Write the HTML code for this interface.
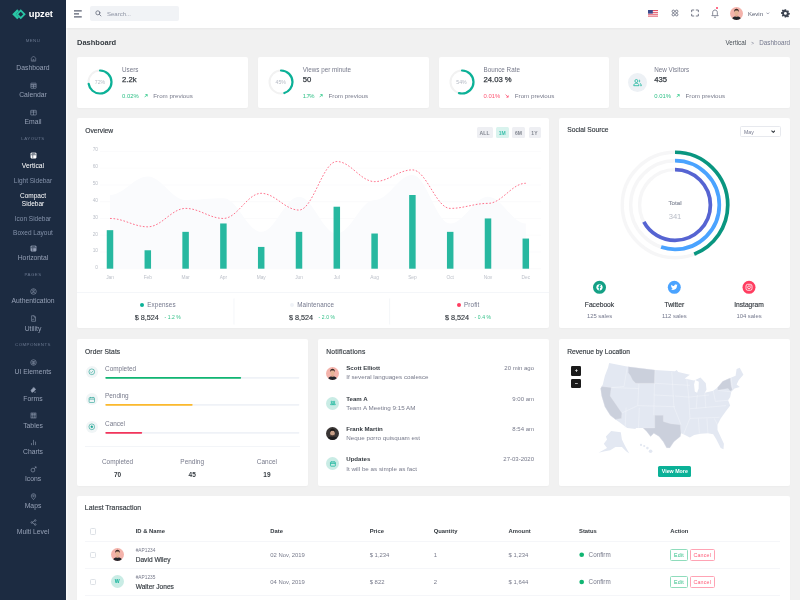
<!DOCTYPE html>
<html lang="en">
<head>
<meta charset="utf-8">
<title>Dashboard | Upzet</title>
<style>
*{box-sizing:border-box;margin:0;padding:0}
html,body{width:800px;height:600px;overflow:hidden}
body{font-family:"Liberation Sans",sans-serif;font-size:6.2px;color:#495057;background:#f1f1f1;position:relative;line-height:1.2}
#wrap{position:absolute;left:0;top:0;width:800px;height:600px;overflow:hidden;will-change:transform;transform:translateZ(0)}
.abs{position:absolute}
.nw{white-space:nowrap}
/* ---------- sidebar ---------- */
#side{box-shadow:1.500px 0 0 rgba(255,255,255,.55);position:absolute;left:0;top:0;width:66px;height:600px;background:#1c2b41;color:#95a0b5}
#side .lbl{position:absolute;left:0;width:66px;text-align:center;font-size:6.5px;line-height:8px;white-space:nowrap}
#side .ttl{position:absolute;left:0;width:66px;text-align:center;font-size:4.4px;line-height:6px;letter-spacing:.45px;color:#6a7890}
#side .ic{position:absolute;left:29.500px;width:7px;height:7px;color:#95a0b5}
#side .ic svg{width:7px;height:7px;display:block;fill:none;stroke:#95a0b5;stroke-width:2;stroke-linecap:butt;stroke-linejoin:miter}
#side .on{color:#fff}
#side .ic.on{color:#fff}
#side .ic.on svg{stroke:#fff}
#side .lbl{font-size:6.8px}
#side .lbl.sub{font-size:6.500px;color:#8391a9}
#side .lbl.sub.on{color:#fff}
/* ---------- topbar ---------- */
#top{position:absolute;left:66px;top:0;width:734px;height:28px;background:#fff;box-shadow:0 1px 2px rgba(0,0,0,.04)}
/* ---------- cards ---------- */
.card{position:absolute}
.card::before{content:"";position:absolute;left:0;right:0;top:var(--t,0px);bottom:var(--b,0px);background:#fff;border-radius:2px;box-shadow:0 1px 1.5px rgba(0,0,0,.022)}
#s1,#s2,#s3,#s4{--b:.7px}
#ov,#ss{--t:-.4px;--b:.55px}
#os,#nt,#rv{--t:-.35px;--b:-.1px}
.ct{position:absolute;font-size:6.7px;color:#343a40;white-space:nowrap;-webkit-text-stroke:.15px #343a40}
.mut{color:#777a8b}
</style>
</head>
<body>
<div id="wrap">

<!-- ================= SIDEBAR ================= -->
<div id="side">
  <svg class="abs" style="left:12px;top:9.300px;width:14px;height:10.500px" viewBox="0 0 28 21"><path d="M10.500 0.500 0.500 10.500l10 10 3.500-3.500-6.500-6.500 6.500-6.500z" fill="#2ac6a6"/><path d="M17.500 0.500l-10 10 10 10 10-10z" fill="#2ac6a6"/><path d="M17.500 5.500l-5 5 5 5 5-5z" fill="#1c2b41"/></svg>
  <div class="abs nw" style="left:28.800px;top:7.200px;font-size:9.400px;line-height:13px;font-weight:bold;color:#fff;letter-spacing:-.1px">upzet</div>
  <div class="ttl" style="top:38.10px">MENU</div>
  <div class="ic" style="top:54.50px"><svg viewBox="0 0 24 24"><path d="M4.500 11 12 3.500l7.500 7.500v10h-15z" stroke-width="1.800"/><path d="M10.200 21v-5.500h3.600V21" stroke-width="1.500"/></svg></div>
  <div class="lbl" style="top:64.00px">Dashboard</div>
  <div class="ic" style="top:81.50px"><svg viewBox="0 0 24 24"><rect x="3" y="4" width="18" height="17.500" rx="1"/><path d="M3 9.500h18" stroke-width="3"/><path d="M12 9.500V21M3 15h18"/></svg></div>
  <div class="lbl" style="top:91.00px">Calendar</div>
  <div class="ic" style="top:108.50px"><svg viewBox="0 0 24 24"><rect x="2.500" y="4.500" width="19" height="16" rx="1"/><path d="M2.500 10.500h19M12 4.500v16"/></svg></div>
  <div class="lbl" style="top:118.00px">Email</div>
  <div class="ttl" style="top:135.70px">LAYOUTS</div>
  <div class="ic on" style="top:152.25px"><svg viewBox="0 0 24 24"><rect x="3" y="3" width="18" height="18" rx="2" fill="currentColor"/><path d="M3 9.5h18M9.5 21V9.5" stroke="#1c2b41" stroke-width="2"/><rect x="6" y="5" width="12" height="2.5" fill="#1c2b41" stroke="none"/></svg></div>
  <div class="lbl on" style="top:162.00px">Vertical</div>
  <div class="lbl sub" style="top:177.25px">Light Sidebar</div>
  <div class="lbl sub on" style="top:191.50px">Compact</div>
  <div class="lbl sub on" style="top:200.25px">Sidebar</div>
  <div class="lbl sub" style="top:214.50px">Icon Sidebar</div>
  <div class="lbl sub" style="top:228.75px">Boxed Layout</div>
  <div class="ic" style="top:244.50px"><svg viewBox="0 0 24 24"><rect x="3" y="3" width="18" height="18" rx="2" fill="currentColor"/><path d="M3 9.5h18M9.5 21V9.5" stroke="#1c2b41" stroke-width="2"/><rect x="6" y="5" width="12" height="2.5" fill="#1c2b41" stroke="none"/></svg></div>
  <div class="lbl" style="top:253.75px">Horizontal</div>
  <div class="ttl" style="top:271.70px">PAGES</div>
  <div class="ic" style="top:288.00px"><svg viewBox="0 0 24 24"><circle cx="12" cy="12" r="9.5"/><circle cx="12" cy="9.5" r="3"/><path d="M6 18.5c1.5-3 4-4 6-4s4.500 1 6 4"/></svg></div>
  <div class="lbl" style="top:297.25px">Authentication</div>
  <div class="ic" style="top:315.25px"><svg viewBox="0 0 24 24"><path d="M5.5 2.5h9l4.500 4.500V21.500h-13.500z"/><path d="M14 2.5v5h5M8.500 16.500l2.500-3 2.500 2 2-2.500"/></svg></div>
  <div class="lbl" style="top:324.50px">Utility</div>
  <div class="ttl" style="top:342.10px">COMPONENTS</div>
  <div class="ic" style="top:359.00px"><svg viewBox="0 0 24 24"><circle cx="12" cy="12" r="9.500"/><path d="M7.500 9h9v4c0 3-2 4.500-4.500 4.500s-4.500-1.500-4.500-4.500z"/><path d="M12 9v8"/></svg></div>
  <div class="lbl" style="top:368.25px">UI Elements</div>
  <div class="ic" style="top:385.75px"><svg viewBox="0 0 24 24"><path d="M3.500 14.500 13 5l6.500 6.500-9.500 9.500H6z" fill="currentColor"/><path d="M13.500 21h7"/><path d="M9 3.500l2 2" /></svg></div>
  <div class="lbl" style="top:394.75px">Forms</div>
  <div class="ic" style="top:412.20px"><svg viewBox="0 0 24 24"><rect x="3.500" y="3.500" width="17" height="17"/><path d="M9.300 3.500v17M14.700 3.500v17M3.500 9.500h17"/></svg></div>
  <div class="lbl" style="top:421.50px">Tables</div>
  <div class="ic" style="top:439.20px"><svg viewBox="0 0 24 24"><path d="M5 21v-7M12 21V3M19 21V9"/></svg></div>
  <div class="lbl" style="top:448.20px">Charts</div>
  <div class="ic" style="top:465.80px"><svg viewBox="0 0 24 24"><circle cx="10" cy="14" r="6.500"/><path d="M14.500 9.500 21 3M16 3h5v5"/></svg></div>
  <div class="lbl" style="top:474.80px">Icons</div>
  <div class="ic" style="top:492.80px"><svg viewBox="0 0 24 24"><path d="M12 22.500c-4-4.500-7.500-8.500-7.500-12.500a7.500 7.500 0 0 1 15 0c0 4-3.500 8-7.500 12.500z"/><circle cx="12" cy="10" r="2.800"/></svg></div>
  <div class="lbl" style="top:501.50px">Maps</div>
  <div class="ic" style="top:519.20px"><svg viewBox="0 0 24 24"><circle cx="18" cy="5" r="2.800"/><circle cx="6" cy="12" r="2.800"/><circle cx="18" cy="19" r="2.800"/><path d="M8.500 10.500 15.500 6.500M8.500 13.500l7 4"/></svg></div>
  <div class="lbl" style="top:528.20px">Multi Level</div>
</div>

<!-- ================= TOPBAR ================= -->
<div id="top">

  <!-- hamburger -->
  <svg class="abs" style="left:8.400px;top:10.400px;width:8px;height:7.500px" viewBox="0 0 16 15"><path d="M0 1.500h15.500M0 7.500h10M0 13.500h15.500" stroke="#5b6172" stroke-width="2.500" fill="none"/></svg>
  <!-- search -->
  <div class="abs" style="left:24.100px;top:6.100px;width:88.600px;height:15.300px;background:#f1f3f6;border-radius:2px"></div>
  <svg class="abs" style="left:29.300px;top:10.200px;width:6.500px;height:6.500px" viewBox="0 0 24 24" fill="none" stroke="#555b6d" stroke-width="2.600" stroke-linecap="round"><circle cx="10.500" cy="10.500" r="7.500"/><path d="M16.500 16.500 22 22"/></svg>
  <div class="abs nw" style="left:41px;top:9.700px;font-size:6px;line-height:8px;color:#8d93a3">Search...</div>
  <!-- flag -->
  <svg class="abs" style="left:582px;top:10.400px;width:10.400px;height:6.600px" viewBox="0 0 52 33"><rect width="52" height="33" fill="#fff"/><g fill="#e0485c"><rect width="52" height="4.700"/><rect y="9.400" width="52" height="4.700"/><rect y="18.800" width="52" height="4.700"/><rect y="28.300" width="52" height="4.700"/></g><rect width="24" height="18" fill="#3c4a8c"/></svg>
  <!-- apps -->
  <svg class="abs" style="left:604.600px;top:9.400px;width:8px;height:8px" viewBox="0 0 24 24" fill="none" stroke="#555b6d" stroke-width="2.200"><circle cx="7" cy="7" r="3.800"/><circle cx="17" cy="7" r="3.800"/><circle cx="7" cy="17" r="3.800"/><circle cx="17" cy="17" r="3.800"/></svg>
  <!-- fullscreen -->
  <svg class="abs" style="left:625.400px;top:9.400px;width:8px;height:8px" viewBox="0 0 24 24" fill="none" stroke="#555b6d" stroke-width="2.400" stroke-linecap="square"><path d="M2 8V3h6M16 3h6v5M22 16v5h-6M8 21H2v-5"/></svg>
  <!-- bell -->
  <svg class="abs" style="left:644.600px;top:9px;width:8px;height:9px" viewBox="0 0 24 27" fill="none" stroke="#555b6d" stroke-width="2.200" stroke-linejoin="round"><path d="M12 3c-4.500 0-7 3.500-7 7.500v6l-2.500 3.500h19L19 16.500v-6C19 6.500 16.500 3 12 3z"/><path d="M9 23.500c1.500 2 4.500 2 6 0"/></svg>
  <div class="abs" style="left:650px;top:7px;width:2.400px;height:2.400px;border-radius:50%;background:#ff3d60"></div>
  <!-- avatar -->
  <svg class="abs" style="left:664.200px;top:7px;width:13px;height:13px" viewBox="0 0 26 26"><defs><clipPath id="avc"><circle cx="13" cy="13" r="13"/></clipPath></defs><g clip-path="url(#avc)"><rect width="26" height="26" fill="#f4b3ab"/><path d="M3.500 26c0-5 4-7.500 9.500-7.500s9.500 2.500 9.500 7.500z" fill="#23252b"/><rect x="11" y="15" width="4" height="4.500" fill="#dba487"/><ellipse cx="13" cy="11.500" rx="4.300" ry="5.200" fill="#e6b496"/><path d="M8.300 10.500c-.5-5 2-7 4.700-7s5.200 2 4.700 7c-.8-2.500-1.500-3.500-4.700-3.500s-3.900 1-4.700 3.500z" fill="#3b2a26"/></g></svg>
  <div class="abs nw" style="left:682px;top:9.700px;font-size:6px;line-height:8px;color:#555b6d">Kevin</div>
  <svg class="abs" style="left:700px;top:12.200px;width:3.600px;height:2.600px" viewBox="0 0 8 5" fill="none" stroke="#74788d" stroke-width="1.500"><path d="M1 1l3 3 3-3"/></svg>
  <!-- gear -->
  <svg class="abs" style="left:715px;top:9.200px;width:8.800px;height:8.800px" viewBox="0 0 24 24"><path fill="#3d4451" fill-rule="evenodd" d="M10 1h4l.6 3.100 1.900.8 2.600-1.800 2.800 2.800-1.800 2.600.8 1.900 3.100.6v4l-3.100.6-.8 1.900 1.800 2.600-2.800 2.800-2.600-1.800-1.900.8L14 23h-4l-.6-3.100-1.900-.8-2.600 1.800-2.800-2.800 1.800-2.600-.8-1.900L0 13v-4l3.100-.6.8-1.900-1.800-2.600 2.800-2.800 2.600 1.800 1.900-.8zM12 8a4 4 0 1 0 0 8 4 4 0 0 0 0-8z"/></svg>

</div>

<!-- ================= PAGE TITLE ================= -->
<div class="abs nw" style="left:77px;top:38px;font-size:7.500px;font-weight:bold;color:#343a40;line-height:9px">Dashboard</div>
<div class="abs nw" style="right:10px;top:39px;font-size:6.3px;line-height:8px;color:#495057">Vertical <span style="display:inline-block;width:9.600px;text-align:center;color:#74788d;font-size:4.600px;vertical-align:.4px">&gt;</span> <span style="color:#74788d">Dashboard</span></div>

<!-- ================= STAT CARDS ================= -->
<div class="card" id="s1" style="left:77px;top:57px;width:170.75px;height:51.5px"><svg class="abs" style="left:10px;top:12.250px;width:26px;height:26px" viewBox="0 0 26 26"><circle cx="13" cy="13" r="11.5" fill="none" stroke="#f2f2f2" stroke-width="2"/><circle cx="13" cy="13" r="11.5" fill="none" stroke="#0bb197" stroke-width="2.200" stroke-linecap="round" stroke-dasharray="52.02 72.26" transform="rotate(-90 13 13)"/></svg><div class="abs" style="left:10px;top:21.750px;width:26px;text-align:center;font-size:5.200px;line-height:7px;color:#b5bac4">72%</div><div class="abs nw mut" style="left:45px;top:8.700px;font-size:6.300px;line-height:8px">Users</div><div class="abs nw" style="left:45px;top:18.400px;font-size:7.700px;line-height:10px;color:#343a40;-webkit-text-stroke:.25px #343a40">2.2k</div><div class="abs nw mut" style="left:45px;top:34.600px;font-size:6.200px;line-height:8px"><span style="color:#2dbf85;font-size:5.900px">0.02%</span><svg style="width:3.800px;height:3.800px;margin:0 5.800px 0 5px;vertical-align:0" viewBox="0 0 10 10" fill="none" stroke="#0ac074" stroke-width="1.800"><path d="M1.500 8.500 8 2M3.500 1.500h5v5"/></svg>From previous</div></div>
<div class="card" id="s2" style="left:257.75px;top:57px;width:170.75px;height:51.5px"><svg class="abs" style="left:10px;top:12.250px;width:26px;height:26px" viewBox="0 0 26 26"><circle cx="13" cy="13" r="11.5" fill="none" stroke="#f2f2f2" stroke-width="2"/><circle cx="13" cy="13" r="11.5" fill="none" stroke="#0bb197" stroke-width="2.200" stroke-linecap="round" stroke-dasharray="32.52 72.26" transform="rotate(-90 13 13)"/></svg><div class="abs" style="left:10px;top:21.750px;width:26px;text-align:center;font-size:5.200px;line-height:7px;color:#b5bac4">45%</div><div class="abs nw mut" style="left:45px;top:8.700px;font-size:6.300px;line-height:8px">Views per minute</div><div class="abs nw" style="left:45px;top:18.400px;font-size:7.700px;line-height:10px;color:#343a40;-webkit-text-stroke:.25px #343a40">50</div><div class="abs nw mut" style="left:45px;top:34.600px;font-size:6.200px;line-height:8px"><span style="color:#2dbf85;font-size:5.900px;letter-spacing:-.55px">1.7%</span><svg style="width:3.800px;height:3.800px;margin:0 5.800px 0 5px;vertical-align:0" viewBox="0 0 10 10" fill="none" stroke="#0ac074" stroke-width="1.800"><path d="M1.500 8.500 8 2M3.500 1.500h5v5"/></svg>From previous</div></div>
<div class="card" id="s3" style="left:438.5px;top:57px;width:170.75px;height:51.5px"><svg class="abs" style="left:10px;top:12.250px;width:26px;height:26px" viewBox="0 0 26 26"><circle cx="13" cy="13" r="11.5" fill="none" stroke="#f2f2f2" stroke-width="2"/><circle cx="13" cy="13" r="11.5" fill="none" stroke="#0bb197" stroke-width="2.200" stroke-linecap="round" stroke-dasharray="39.02 72.26" transform="rotate(-90 13 13)"/></svg><div class="abs" style="left:10px;top:21.750px;width:26px;text-align:center;font-size:5.200px;line-height:7px;color:#b5bac4">54%</div><div class="abs nw mut" style="left:45px;top:8.700px;font-size:6.300px;line-height:8px">Bounce Rate</div><div class="abs nw" style="left:45px;top:18.400px;font-size:7.700px;line-height:10px;color:#343a40;-webkit-text-stroke:.25px #343a40">24.03 %</div><div class="abs nw mut" style="left:45px;top:34.600px;font-size:6.200px;line-height:8px"><span style="color:#ff5573;font-size:5.900px">0.01%</span><svg style="width:3.800px;height:3.800px;margin:0 5.800px 0 5px;vertical-align:0" viewBox="0 0 10 10" fill="none" stroke="#ff3d60" stroke-width="1.800"><path d="M1.500 1.500 8 8M8.500 3.500v5h-5"/></svg>From previous</div></div>
<div class="card" id="s4" style="left:619.25px;top:57px;width:170.75px;height:51.5px"><div class="abs" style="left:8.750px;top:15.750px;width:19px;height:19px;border-radius:50%;background:#edf1f5"></div><svg class="abs" style="left:13.750px;top:21px;width:9px;height:9px" viewBox="0 0 24 24" fill="none" stroke="#0bb197" stroke-width="2"><circle cx="9" cy="8" r="4"/><path d="M2 20.500c0-4.500 3-6.500 7-6.500s7 2 7 6.500z"/><path d="M16 4.500a4 4 0 0 1 0 7M18.500 14.500c2.500.800 3.800 2.700 3.800 6h-3"/></svg><div class="abs nw mut" style="left:35px;top:8.700px;font-size:6.300px;line-height:8px">New Visitors</div><div class="abs nw" style="left:35px;top:18.400px;font-size:7.700px;line-height:10px;color:#343a40;-webkit-text-stroke:.25px #343a40">435</div><div class="abs nw mut" style="left:35px;top:34.600px;font-size:6.200px;line-height:8px"><span style="color:#2dbf85;font-size:5.900px">0.01%</span><svg style="width:3.800px;height:3.800px;margin:0 5.800px 0 5px;vertical-align:0" viewBox="0 0 10 10" fill="none" stroke="#0ac074" stroke-width="1.800"><path d="M1.500 8.500 8 2M3.500 1.500h5v5"/></svg>From previous</div></div>

<!-- ================= ROW 2 ================= -->
<div class="card" id="ov" style="left:77px;top:118.5px;width:472px;height:210.5px">
<svg class="abs" style="left:0;top:0;width:472px;height:210.500px" viewBox="77 118.500 472 210.500" font-family="Liberation Sans, sans-serif">
<path d="M100 268.20H541" stroke="#f4f5f7" stroke-width=".4"/>
<text x="98" y="268.80" font-size="4.800" fill="#bcc0c9" text-anchor="end">0</text>
<path d="M100 251.45H541" stroke="#f4f5f7" stroke-width=".4"/>
<text x="98" y="251.93" font-size="4.800" fill="#bcc0c9" text-anchor="end">10</text>
<path d="M100 234.70H541" stroke="#f4f5f7" stroke-width=".4"/>
<text x="98" y="235.06" font-size="4.800" fill="#bcc0c9" text-anchor="end">20</text>
<path d="M100 217.95H541" stroke="#f4f5f7" stroke-width=".4"/>
<text x="98" y="218.19" font-size="4.800" fill="#bcc0c9" text-anchor="end">30</text>
<path d="M100 201.20H541" stroke="#f4f5f7" stroke-width=".4"/>
<text x="98" y="201.32" font-size="4.800" fill="#bcc0c9" text-anchor="end">40</text>
<path d="M100 184.45H541" stroke="#f4f5f7" stroke-width=".4"/>
<text x="98" y="184.45" font-size="4.800" fill="#bcc0c9" text-anchor="end">50</text>
<path d="M100 167.70H541" stroke="#f4f5f7" stroke-width=".4"/>
<text x="98" y="167.58" font-size="4.800" fill="#bcc0c9" text-anchor="end">60</text>
<path d="M100 150.95H541" stroke="#f4f5f7" stroke-width=".4"/>
<text x="98" y="150.71" font-size="4.800" fill="#bcc0c9" text-anchor="end">70</text>
<path d="M110.00 194.50C124.00 194.50 133.80 176.07 147.80 176.07C161.80 176.07 171.60 199.52 185.60 199.52C199.60 199.52 209.40 197.85 223.40 197.85C237.40 197.85 247.20 231.35 261.20 231.35C275.20 231.35 285.00 196.17 299.00 196.17C313.00 196.17 322.80 233.02 336.80 233.02C350.80 233.02 360.60 199.52 374.60 199.52C388.60 199.52 398.40 174.40 412.40 174.40C426.40 174.40 436.20 222.97 450.20 222.97C464.20 222.97 474.00 196.17 488.00 196.17C502.00 196.17 511.80 222.97 525.80 222.97L525.80 268.20L110.00 268.20Z" fill="#fafbfd"/>
<rect x="106.75" y="229.67" width="6.500" height="38.52" fill="#27b8a0"/>
<rect x="144.55" y="249.77" width="6.500" height="18.43" fill="#27b8a0"/>
<rect x="182.35" y="231.35" width="6.500" height="36.85" fill="#27b8a0"/>
<rect x="220.15" y="222.97" width="6.500" height="45.23" fill="#27b8a0"/>
<rect x="257.95" y="246.42" width="6.500" height="21.78" fill="#27b8a0"/>
<rect x="295.75" y="231.35" width="6.500" height="36.85" fill="#27b8a0"/>
<rect x="333.55" y="206.22" width="6.500" height="61.98" fill="#27b8a0"/>
<rect x="371.35" y="233.02" width="6.500" height="35.18" fill="#27b8a0"/>
<rect x="409.15" y="194.50" width="6.500" height="73.70" fill="#27b8a0"/>
<rect x="446.95" y="231.35" width="6.500" height="36.85" fill="#27b8a0"/>
<rect x="484.75" y="217.95" width="6.500" height="50.25" fill="#27b8a0"/>
<rect x="522.55" y="238.05" width="6.500" height="30.15" fill="#27b8a0"/>
<path d="M110.00 217.95C124.00 217.95 133.80 226.32 147.80 226.32C161.80 226.32 171.60 207.90 185.60 207.90C199.60 207.90 209.40 217.95 223.40 217.95C237.40 217.95 247.20 192.82 261.20 192.82C275.20 192.82 285.00 209.57 299.00 209.57C313.00 209.57 322.80 161.00 336.80 161.00C350.80 161.00 360.60 181.10 374.60 181.10C388.60 181.10 398.40 169.38 412.40 169.38C426.40 169.38 436.20 207.90 450.20 207.90C464.20 207.90 474.00 202.88 488.00 202.88C502.00 202.88 511.80 182.77 525.80 182.77" fill="none" stroke="#ff3d60" stroke-width=".85" stroke-dasharray="1.700 1.700" stroke-opacity=".85"/>
<text x="110.00" y="278.200" font-size="4.800" fill="#bcc0c9" text-anchor="middle">Jan</text>
<text x="147.80" y="278.200" font-size="4.800" fill="#bcc0c9" text-anchor="middle">Feb</text>
<text x="185.60" y="278.200" font-size="4.800" fill="#bcc0c9" text-anchor="middle">Mar</text>
<text x="223.40" y="278.200" font-size="4.800" fill="#bcc0c9" text-anchor="middle">Apr</text>
<text x="261.20" y="278.200" font-size="4.800" fill="#bcc0c9" text-anchor="middle">May</text>
<text x="299.00" y="278.200" font-size="4.800" fill="#bcc0c9" text-anchor="middle">Jun</text>
<text x="336.80" y="278.200" font-size="4.800" fill="#bcc0c9" text-anchor="middle">Jul</text>
<text x="374.60" y="278.200" font-size="4.800" fill="#bcc0c9" text-anchor="middle">Aug</text>
<text x="412.40" y="278.200" font-size="4.800" fill="#bcc0c9" text-anchor="middle">Sep</text>
<text x="450.20" y="278.200" font-size="4.800" fill="#bcc0c9" text-anchor="middle">Oct</text>
<text x="488.00" y="278.200" font-size="4.800" fill="#bcc0c9" text-anchor="middle">Nov</text>
<text x="525.80" y="278.200" font-size="4.800" fill="#bcc0c9" text-anchor="middle">Dec</text>
<path d="M77 292H549" stroke="#eff2f7" stroke-width=".7"/><path d="M234 298V324M389.600 298V324" stroke="#eff2f7" stroke-width=".7"/>
</svg>
<div class="ct" style="left:8.300px;top:8.500px;line-height:8px">Overview</div>
<div class="abs" style="left:399.5px;top:8.500px;width:16.2px;height:10.700px;background:#eeeff3;border-radius:1.500px;color:#80858f;font-size:5px;line-height:12.300px;font-weight:bold;overflow:hidden;text-align:center;letter-spacing:.1px">ALL</div><div class="abs" style="left:419px;top:8.500px;width:12.6px;height:10.700px;background:#d9f3ee;border-radius:1.500px;color:#3cc0ab;font-size:5px;line-height:12.300px;font-weight:bold;overflow:hidden;text-align:center;letter-spacing:.1px">1M</div><div class="abs" style="left:434.6px;top:8.500px;width:13.9px;height:10.700px;background:#eeeff3;border-radius:1.500px;color:#80858f;font-size:5px;line-height:12.300px;font-weight:bold;overflow:hidden;text-align:center;letter-spacing:.1px">6M</div><div class="abs" style="left:451.5px;top:8.500px;width:12px;height:10.700px;background:#eeeff3;border-radius:1.500px;color:#80858f;font-size:5px;line-height:12.300px;font-weight:bold;overflow:hidden;text-align:center;letter-spacing:.1px">1Y</div>
<div class="abs nw" style="left:20.80000000000001px;width:120px;top:182.700px;text-align:center;font-size:6.300px;letter-spacing:.08px;line-height:8px;color:#74788d"><span style="display:inline-block;width:4px;height:4px;border-radius:50%;background:#0bb197;margin-right:3.400px;vertical-align:.5px"></span>Expenses</div><div class="abs nw" style="left:20.80000000000001px;width:120px;top:194.100px;text-align:center;font-size:7.250px;line-height:9px;color:#343a40;-webkit-text-stroke:.15px #343a40">$ 8,524<span style="font-size:5px;color:#2dbf85;-webkit-text-stroke:0;margin-left:5.500px;vertical-align:.3px;letter-spacing:.1px">- 1.2 %</span></div><div class="abs nw" style="left:175px;width:120px;top:182.700px;text-align:center;font-size:6.300px;letter-spacing:.08px;line-height:8px;color:#74788d"><span style="display:inline-block;width:4px;height:4px;border-radius:50%;background:#eff2f7;margin-right:3.400px;vertical-align:.5px"></span>Maintenance</div><div class="abs nw" style="left:175px;width:120px;top:194.100px;text-align:center;font-size:7.250px;line-height:9px;color:#343a40;-webkit-text-stroke:.15px #343a40">$ 8,524<span style="font-size:5px;color:#2dbf85;-webkit-text-stroke:0;margin-left:5.500px;vertical-align:.3px;letter-spacing:.1px">- 2.0 %</span></div><div class="abs nw" style="left:331px;width:120px;top:182.700px;text-align:center;font-size:6.300px;letter-spacing:.08px;line-height:8px;color:#74788d"><span style="display:inline-block;width:4px;height:4px;border-radius:50%;background:#ff3d60;margin-right:3.400px;vertical-align:.5px"></span>Profit</div><div class="abs nw" style="left:331px;width:120px;top:194.100px;text-align:center;font-size:7.250px;line-height:9px;color:#343a40;-webkit-text-stroke:.15px #343a40">$ 8,524<span style="font-size:5px;color:#2dbf85;-webkit-text-stroke:0;margin-left:5.500px;vertical-align:.3px;letter-spacing:.1px">- 0.4 %</span></div>
</div>
<div class="card" id="ss" style="left:559px;top:118.5px;width:231px;height:210.5px">
<svg class="abs" style="left:0;top:0;width:231px;height:210.500px" viewBox="559 118.500 231 210.500" font-family="Liberation Sans, sans-serif">
<circle cx="675.0" cy="204.5" r="52.75" fill="none" stroke="#f6f6f7" stroke-width="3.400"/><circle cx="675.0" cy="204.5" r="52.75" fill="none" stroke="#099680" stroke-width="3.700" stroke-dasharray="145.83 331.44" transform="rotate(-90 675.0 204.5)"/><circle cx="675.0" cy="204.5" r="44.3" fill="none" stroke="#f6f6f7" stroke-width="3.400"/><circle cx="675.0" cy="204.5" r="44.3" fill="none" stroke="#4aa3ff" stroke-width="3.700" stroke-dasharray="153.09 278.35" transform="rotate(-90 675.0 204.5)"/><circle cx="675.0" cy="204.5" r="35.4" fill="none" stroke="#f6f6f7" stroke-width="3.400"/><circle cx="675.0" cy="204.5" r="35.4" fill="none" stroke="#5664d2" stroke-width="3.700" stroke-dasharray="149.02 222.42" transform="rotate(-90 675.0 204.5)"/>
<text x="675.0" y="204.900" font-size="6.200" fill="#8f94a1" stroke="#8f94a1" stroke-width=".2" text-anchor="middle">Total</text>
<text x="675.0" y="218" font-size="7.600" fill="#b8bcc6" text-anchor="middle">341</text>
<circle cx="599.5" cy="286.800" r="6.500" fill="#14a085"/>
<circle cx="674.3" cy="286.800" r="6.500" fill="#4aa3ff"/>
<circle cx="749" cy="286.800" r="6.500" fill="#ff3d60"/>
<circle cx="599.500" cy="286.800" r="3.100" fill="#fff"/><path d="M599.900 289.900v-2.600h.9l.15-1h-1.050v-.65c0-.3.1-.5.55-.5h.55v-.9c-.1 0-.45-.05-.8-.05-.85 0-1.400.5-1.400 1.400v.7h-.9v1h.9v2.600z" fill="#0bb197"/>
<path d="M677.700 284.600c-.25.1-.5.200-.8.200.3-.2.500-.45.600-.8-.3.150-.55.250-.9.350-.25-.3-.6-.45-1-.45-.8 0-1.400.65-1.400 1.400 0 .1 0 .2.050.3-1.150-.05-2.200-.6-2.900-1.450-.1.200-.2.450-.2.700 0 .5.250.9.600 1.150-.25 0-.45-.05-.65-.15 0 .7.500 1.250 1.100 1.400-.2.050-.4.050-.6 0 .2.550.700.950 1.300.950-.6.450-1.300.650-2.050.600.600.400 1.350.600 2.150.600 2.550 0 3.950-2.100 3.950-3.950v-.2c.300-.2.550-.45.750-.65z" fill="#fff"/>
<rect x="746" y="283.800" width="6" height="6" rx="1.700" fill="none" stroke="#fff" stroke-width=".8"/><circle cx="749" cy="286.800" r="1.400" fill="none" stroke="#fff" stroke-width=".75"/><circle cx="750.700" cy="285.100" r=".4" fill="#fff"/>
<text x="599.5" y="306" font-size="6.700" fill="#343a40" stroke="#343a40" stroke-width=".15" text-anchor="middle">Facebook</text>
<text x="599.5" y="317" font-size="5.900" fill="#74788d" text-anchor="middle">125 sales</text>
<text x="674.3" y="306" font-size="6.700" fill="#343a40" stroke="#343a40" stroke-width=".15" text-anchor="middle">Twitter</text>
<text x="674.3" y="317" font-size="5.900" fill="#74788d" text-anchor="middle">112 sales</text>
<text x="749" y="306" font-size="6.700" fill="#343a40" stroke="#343a40" stroke-width=".15" text-anchor="middle">Instagram</text>
<text x="749" y="317" font-size="5.900" fill="#74788d" text-anchor="middle">104 sales</text>
</svg>
<div class="ct" style="left:8.300px;top:7.900px;line-height:8px">Social Source</div>
<div class="abs" style="left:181.200px;top:7.500px;width:41.200px;height:11.200px;border:1px solid #e7e9ee;border-radius:1.500px"></div>
<div class="abs nw" style="left:185px;top:10.200px;font-size:5.200px;line-height:7px;color:#74788d">May</div>
<svg class="abs" style="left:211.500px;top:11.500px;width:4.600px;height:3.200px" viewBox="0 0 10 7" fill="none" stroke="#343a40" stroke-width="2.300"><path d="M1 1.200l4 4 4-4"/></svg>
</div>

<!-- ================= ROW 3 ================= -->
<div class="card" id="os" style="left:77px;top:339.4px;width:231px;height:146.4px">
<div class="ct" style="left:8px;top:8.300px;line-height:8px;letter-spacing:.1px">Order Stats</div>
<div class="abs" style="left:8.60px;top:26.50px;width:12px;height:12px;border-radius:50%;background:#f0f5f6"></div>
<svg class="abs" style="left:10.80px;top:28.70px;width:7.600px;height:7.600px" viewBox="0 0 24 24" fill="none" stroke="#2ba596" stroke-width="2"><circle cx="12" cy="12" r="9"/><path d="M7.500 12.500l3 3 6-6.500"/></svg>
<div class="abs nw mut" style="left:28px;top:25.35px;font-size:6.450px;line-height:8px">Completed</div>
<svg class="abs" style="left:28px;top:36.25px;width:194.7px;height:3.700px" viewBox="0 0 194.7 3.700"><rect x="0" y="1" width="194.7" height="1.700" rx=".85" fill="#eff2f7"/><rect x="0" y="1" width="136.29" height="1.700" rx=".85" fill="#10b572"/></svg>
<div class="abs" style="left:8.60px;top:54.00px;width:12px;height:12px;border-radius:50%;background:#f0f5f6"></div>
<svg class="abs" style="left:10.80px;top:56.20px;width:7.600px;height:7.600px" viewBox="0 0 24 24" fill="none" stroke="#2ba596" stroke-width="2"><rect x="3.500" y="5" width="17" height="15.500" rx="2"/><path d="M3.500 10h17M8 3v4M16 3v4"/></svg>
<div class="abs nw mut" style="left:28px;top:52.85px;font-size:6.450px;line-height:8px">Pending</div>
<svg class="abs" style="left:28px;top:63.75px;width:194.7px;height:3.700px" viewBox="0 0 194.7 3.700"><rect x="0" y="1" width="194.7" height="1.700" rx=".85" fill="#eff2f7"/><rect x="0" y="1" width="87.61" height="1.700" rx=".85" fill="#fcb92c"/></svg>
<div class="abs" style="left:8.60px;top:81.50px;width:12px;height:12px;border-radius:50%;background:#f0f5f6"></div>
<svg class="abs" style="left:10.80px;top:83.70px;width:7.600px;height:7.600px" viewBox="0 0 24 24" fill="none" stroke="#2ba596" stroke-width="2"><circle cx="12" cy="12" r="9"/><circle cx="12" cy="12" r="3" fill="#0bb197"/></svg>
<div class="abs nw mut" style="left:28px;top:80.35px;font-size:6.450px;line-height:8px">Cancel</div>
<svg class="abs" style="left:28px;top:91.25px;width:194.7px;height:3.700px" viewBox="0 0 194.7 3.700"><rect x="0" y="1" width="194.7" height="1.700" rx=".85" fill="#eff2f7"/><rect x="0" y="1" width="36.99" height="1.700" rx=".85" fill="#f2355b"/></svg>
<div class="abs" style="left:8.300px;top:107.00px;width:214.400px;height:1px;background:#f3f5f8"></div>
<div class="abs nw mut" style="left:0.5px;width:80px;text-align:center;top:118.50px;font-size:6.450px;line-height:8px">Completed</div>
<div class="abs nw" style="left:0.5px;width:80px;text-align:center;top:131.20px;font-size:6.500px;line-height:8px;font-weight:bold;color:#343a40">70</div>
<div class="abs nw mut" style="left:75.19999999999999px;width:80px;text-align:center;top:118.50px;font-size:6.450px;line-height:8px">Pending</div>
<div class="abs nw" style="left:75.19999999999999px;width:80px;text-align:center;top:131.20px;font-size:6.500px;line-height:8px;font-weight:bold;color:#343a40">45</div>
<div class="abs nw mut" style="left:149.89999999999998px;width:80px;text-align:center;top:118.50px;font-size:6.450px;line-height:8px">Cancel</div>
<div class="abs nw" style="left:149.89999999999998px;width:80px;text-align:center;top:131.20px;font-size:6.500px;line-height:8px;font-weight:bold;color:#343a40">19</div>
</div>
<div class="card" id="nt" style="left:318px;top:339.4px;width:231px;height:146.4px">
<div class="ct" style="left:8.250px;top:8.300px;line-height:8px;letter-spacing:.22px">Notifications</div>
<svg class="abs" style="left:8.30px;top:27.50px;width:13px;height:13px" viewBox="0 0 26 26"><defs><clipPath id="avn1"><circle cx="13" cy="13" r="13"/></clipPath></defs><g clip-path="url(#avn1)"><rect width="26" height="26" fill="#f4b3ab"/><path d="M3.500 26c0-5 4-7.500 9.500-7.500s9.500 2.500 9.500 7.500z" fill="#23252b"/><rect x="11" y="15" width="4" height="4.500" fill="#dba487"/><ellipse cx="13" cy="11.500" rx="4.300" ry="5.200" fill="#e6b496"/><path d="M8.300 10.500c-.5-5 2-7 4.700-7s5.200 2 4.700 7c-.8-2.500-1.500-3.500-4.700-3.500s-3.900 1-4.700 3.500z" fill="#3b2a26"/></g></svg>
<div class="abs nw" style="left:28.25px;top:24.70px;font-size:6.100px;line-height:8px;font-weight:bold;color:#343a40">Scott Elliott</div>
<div class="abs nw mut" style="left:28.25px;top:33.80px;font-size:6.250px;line-height:8px">If several languages coalesce</div>
<div class="abs nw mut" style="right:15px;top:24.70px;font-size:6px;line-height:8px">20 min ago</div>
<div class="abs" style="left:8.3px;top:57.5px;width:13px;height:13px;border-radius:50%;background:#c9ece5"></div><svg class="abs" style="left:10.9px;top:60.1px;width:7.800px;height:7.800px" viewBox="0 0 24 24" fill="none" stroke="#0bb197" stroke-width="2.200"><path d="M5 17.500c0-3 1.500-4.500 3.500-4.500s3.500 1.500 3.500 4.500zM12.500 17.500c0-3 1.500-4.500 3.500-4.500s3.500 1.500 3.500 4.500z" /><circle cx="8.500" cy="9" r="2.200"/><circle cx="15.500" cy="9" r="2.200"/></svg>
<div class="abs nw" style="left:28.25px;top:55.35px;font-size:6.100px;line-height:8px;font-weight:bold;color:#343a40">Team A</div>
<div class="abs nw mut" style="left:28.25px;top:64.40px;font-size:6.250px;line-height:8px">Team A Meeting 9:15 AM</div>
<div class="abs nw mut" style="right:15px;top:55.35px;font-size:6px;line-height:8px">9:00 am</div>
<svg class="abs" style="left:8.30px;top:88.10px;width:13px;height:13px" viewBox="0 0 26 26"><defs><clipPath id="avn2"><circle cx="13" cy="13" r="13"/></clipPath></defs><g clip-path="url(#avn2)"><rect width="26" height="26" fill="#3a3635"/><path d="M2 26c0-5 4-7 11-7s11 2 11 7z" fill="#1d1c1e"/><ellipse cx="13" cy="12.500" rx="4.600" ry="5.500" fill="#c9a088"/><path d="M8 11c-.6-5.500 2-7.500 5-7.500s5.600 2 5 7.500c-.8-2.500-1.800-3.300-5-3.300s-4.200.8-5 3.300z" fill="#1b1716"/><path d="M9 14.500c.5 3.500 2 4.500 4 4.500s3.500-1 4-4.500c-1 1.500-2.300 2-4 2s-3-.5-4-2z" fill="#4a3a34"/></g></svg>
<div class="abs nw" style="left:28.25px;top:85.60px;font-size:6.100px;line-height:8px;font-weight:bold;color:#343a40">Frank Martin</div>
<div class="abs nw mut" style="left:28.25px;top:94.70px;font-size:6.250px;line-height:8px">Neque porro quisquam est</div>
<div class="abs nw mut" style="right:15px;top:85.60px;font-size:6px;line-height:8px">8:54 am</div>
<div class="abs" style="left:8.3px;top:118.1px;width:13px;height:13px;border-radius:50%;background:#c9ece5"></div><svg class="abs" style="left:10.9px;top:120.69999999999999px;width:7.800px;height:7.800px" viewBox="0 0 24 24" fill="none" stroke="#0bb197" stroke-width="2.200"><rect x="4.500" y="6" width="15" height="13" rx="1.500"/><path d="M4.500 10.500h15M8.500 4v3.500M15.500 4v3.500"/></svg>
<div class="abs nw" style="left:28.25px;top:116.00px;font-size:6.100px;line-height:8px;font-weight:bold;color:#343a40">Updates</div>
<div class="abs nw mut" style="left:28.25px;top:125.35px;font-size:6.250px;line-height:8px">It will be as simple as fact</div>
<div class="abs nw mut" style="right:15px;top:116.00px;font-size:6px;line-height:8px">27-03-2020</div>
</div>
<div class="card" id="rv" style="left:559px;top:339.4px;width:231px;height:146.4px">
<div class="ct" style="left:8.200px;top:8.300px;line-height:8px">Revenue by Location</div>
<svg class="abs" style="left:0;top:0;width:231px;height:146.400px" viewBox="559 339.400 231 146.400">
<polygon points="609.1,363.5 628.2,367.1 654.8,370.3 675.0,371.6 676.7,370.5 678.2,372.4 689.9,375.2 684.6,378.8 694.1,380.9 700.5,377.9 705.8,383.7 706.5,390.1 704.8,393.2 713.2,391.1 717.5,387.9 722.8,381.6 730.2,378.4 735.6,376.2 736.6,369.4 739.8,368.2 743.4,375.2 738.8,380.5 736.6,384.8 739.8,387.3 734.5,389.0 731.3,392.2 730.2,397.5 728.1,400.7 730.2,406.0 726.0,411.3 720.7,418.8 717.5,425.1 717.5,430.4 723.9,444.2 723.5,449.6 720.7,448.5 716.4,440.0 713.2,434.7 707.9,433.6 700.5,434.1 694.1,435.3 689.9,437.9 683.5,434.7 681.0,433.6 680.3,436.8 673.9,442.1 669.7,448.5 666.5,448.1 663.3,442.1 659.1,436.8 653.8,433.6 650.6,436.8 646.3,431.5 643.1,428.3 635.7,428.3 635.7,429.4 627.2,428.3 619.8,423.0 615.5,419.8 610.2,415.6 604.9,407.1 601.7,396.4 600.6,389.0 602.8,384.8 604.9,376.2 608.1,367.8" fill="#e3e8f2"/>
<polyline points="627.2,367.8 624.0,386.9 611.2,387.9" fill="none" stroke="#f3f5fa" stroke-width=".45"/>
<polyline points="611.2,387.9 638.9,389.0" fill="none" stroke="#f3f5fa" stroke-width=".45"/>
<polyline points="638.9,383.7 637.8,406.0 621.9,413.4" fill="none" stroke="#f3f5fa" stroke-width=".45"/>
<polyline points="654.8,370.3 653.8,415.6" fill="none" stroke="#f3f5fa" stroke-width=".45"/>
<polyline points="637.8,406.0 675.0,407.1" fill="none" stroke="#f3f5fa" stroke-width=".45"/>
<polyline points="671.8,372.0 673.9,407.1 681.0,425.1" fill="none" stroke="#f3f5fa" stroke-width=".45"/>
<polyline points="654.4,383.7 673.9,384.8" fill="none" stroke="#f3f5fa" stroke-width=".45"/>
<polyline points="653.8,395.4 673.9,396.4" fill="none" stroke="#f3f5fa" stroke-width=".45"/>
<polyline points="626.1,408.1 625.1,428.3" fill="none" stroke="#f3f5fa" stroke-width=".45"/>
<polyline points="639.3,408.1 638.5,428.3" fill="none" stroke="#f3f5fa" stroke-width=".45"/>
<polyline points="673.9,384.8 689.9,385.8" fill="none" stroke="#f3f5fa" stroke-width=".45"/>
<polyline points="675.0,396.4 688.8,397.5 689.9,418.8 683.5,434.7" fill="none" stroke="#f3f5fa" stroke-width=".45"/>
<polyline points="688.8,397.5 709.0,395.4" fill="none" stroke="#f3f5fa" stroke-width=".45"/>
<polyline points="689.9,409.2 726.0,406.0" fill="none" stroke="#f3f5fa" stroke-width=".45"/>
<polyline points="689.9,418.8 719.6,417.7" fill="none" stroke="#f3f5fa" stroke-width=".45"/>
<polyline points="698.4,418.8 699.4,434.1" fill="none" stroke="#f3f5fa" stroke-width=".45"/>
<polyline points="706.9,418.8 707.9,433.6" fill="none" stroke="#f3f5fa" stroke-width=".45"/>
<polyline points="714.3,418.8 717.5,425.1" fill="none" stroke="#f3f5fa" stroke-width=".45"/>
<polyline points="686.7,378.8 688.8,397.5" fill="none" stroke="#f3f5fa" stroke-width=".45"/>
<polyline points="697.3,395.4 696.2,409.2" fill="none" stroke="#f3f5fa" stroke-width=".45"/>
<polyline points="704.8,393.2 705.8,408.1" fill="none" stroke="#f3f5fa" stroke-width=".45"/>
<polyline points="713.2,391.1 715.4,401.8 728.1,400.7" fill="none" stroke="#f3f5fa" stroke-width=".45"/>
<polyline points="717.5,390.7 731.3,392.2" fill="none" stroke="#f3f5fa" stroke-width=".45"/>
<polyline points="731.3,378.4 732.4,390.1" fill="none" stroke="#f3f5fa" stroke-width=".45"/>
<polygon points="695.2,380.5 698.8,382.2 698.6,389.0 697.1,393.2 694.8,392.0 694.1,384.8" fill="#fff"/><polygon points="628.2,367.1 654.8,370.3 654.4,383.7 635.7,383.7 632.5,380.5 630.4,376.2 628.2,373.1" fill="#cbd0dc" stroke="#e9ecf3" stroke-width=".3"/>
<polygon points="601.7,386.9 611.2,387.9 610.2,396.4 621.9,413.4 621.5,418.8 615.5,419.8 610.2,415.6 604.9,407.1 601.7,396.4 600.6,389.0" fill="#cbd0dc" stroke="#e9ecf3" stroke-width=".3"/>
<polygon points="654.8,415.6 663.3,415.6 663.3,421.9 670.8,424.1 680.3,425.1 681.0,433.6 680.3,436.8 673.9,442.1 669.7,448.5 666.5,448.1 663.3,442.1 659.1,436.8 653.8,433.6 650.6,436.8 646.3,431.5 643.1,428.3 654.8,428.3" fill="#cbd0dc" stroke="#e9ecf3" stroke-width=".3"/>
<polygon points="717.5,387.9 722.8,381.6 730.2,378.4 731.3,386.9 732.4,390.1 730.2,391.6 728.1,389.0 717.5,390.7" fill="#cbd0dc" stroke="#e9ecf3" stroke-width=".3"/>
<polygon points="611.2,431.5 620.8,432.6 621.9,440.0 625.1,446.4 629.3,453.8 626.1,451.7 621.9,447.4 615.5,447.4 610.2,450.6 604.9,451.7 598.5,453.2 607.0,448.5 603.8,444.2 607.0,440.0 605.9,436.8" fill="#e3e8f2"/>
<circle cx="641.0" cy="445.3" r="1.1" fill="#e3e8f2"/>
<circle cx="644.2" cy="446.4" r="1.1" fill="#e3e8f2"/>
<circle cx="647.4" cy="448.5" r="1.3" fill="#e3e8f2"/>
<circle cx="650.6" cy="451.7" r="1.8" fill="#e3e8f2"/>
</svg>
<div class="abs" style="left:12.25px;top:26.85px;width:10px;height:9.35px;background:#1a1a1a;border-radius:1.200px;color:#fff;font-size:5.500px;line-height:9.35px;text-align:center;font-weight:bold">+</div>
<div class="abs" style="left:12.25px;top:39.35px;width:10px;height:9.65px;background:#1a1a1a;border-radius:1.200px;color:#fff;font-size:5.500px;line-height:9.65px;text-align:center;font-weight:bold">&#8722;</div>
<div class="abs" style="left:99.40px;top:126.85px;width:32.850px;height:10.950px;background:#0bb197;border-radius:1.500px;color:#fff;font-size:5.300px;line-height:10.950px;text-align:center;font-weight:bold">View More</div>
</div>

<!-- ================= ROW 4 ================= -->
<div class="card" id="lt" style="left:77px;top:495.8px;width:713px;height:120px">
<div class="ct" style="left:7.800px;top:8.200px;line-height:8px;font-size:6.900px">Latest Transaction</div>
<div class="abs" style="left:12.60px;top:32.70px;width:6.200px;height:6.200px;border:1px solid #dde1e6;border-radius:1.400px;background:#fff"></div>
<div class="abs nw" style="left:58.70px;top:31.30px;font-size:5.850px;line-height:8px;font-weight:bold;color:#343a40">ID &amp; Name</div>
<div class="abs nw" style="left:193.30px;top:31.30px;font-size:5.850px;line-height:8px;font-weight:bold;color:#343a40">Date</div>
<div class="abs nw" style="left:292.70px;top:31.30px;font-size:5.850px;line-height:8px;font-weight:bold;color:#343a40">Price</div>
<div class="abs nw" style="left:356.70px;top:31.30px;font-size:5.850px;line-height:8px;font-weight:bold;color:#343a40">Quantity</div>
<div class="abs nw" style="left:431.60px;top:31.30px;font-size:5.850px;line-height:8px;font-weight:bold;color:#343a40">Amount</div>
<div class="abs nw" style="left:502.00px;top:31.30px;font-size:5.850px;line-height:8px;font-weight:bold;color:#343a40">Status</div>
<div class="abs nw" style="left:593.20px;top:31.30px;font-size:5.850px;line-height:8px;font-weight:bold;color:#343a40">Action</div>
<div class="abs" style="left:8.300px;top:45.50px;width:694.700px;height:1px;background:#f5f6f9"></div>
<div class="abs" style="left:8.300px;top:71.90px;width:694.700px;height:1px;background:#f5f6f9"></div>
<div class="abs" style="left:8.300px;top:99.20px;width:694.700px;height:1px;background:#f5f6f9"></div>
<div class="abs" style="left:12.60px;top:55.85px;width:6.200px;height:6.200px;border:1px solid #dde1e6;border-radius:1.400px;background:#fff"></div>
<svg class="abs" style="left:33.70px;top:52.45px;width:13px;height:13px" viewBox="0 0 26 26"><defs><clipPath id="avt1"><circle cx="13" cy="13" r="13"/></clipPath></defs><g clip-path="url(#avt1)"><rect width="26" height="26" fill="#f4b3ab"/><path d="M3.500 26c0-5 4-7.500 9.500-7.500s9.500 2.500 9.500 7.500z" fill="#23252b"/><rect x="11" y="15" width="4" height="4.500" fill="#dba487"/><ellipse cx="13" cy="11.500" rx="4.300" ry="5.200" fill="#e6b496"/><path d="M8.300 10.500c-.5-5 2-7 4.700-7s5.200 2 4.700 7c-.8-2.500-1.500-3.500-4.700-3.500s-3.900 1-4.700 3.500z" fill="#3b2a26"/></g></svg>
<div class="abs nw mut" style="left:58.70px;top:51.30px;font-size:4.800px;line-height:7px">#AP1234</div>
<div class="abs nw" style="left:58.70px;top:60.00px;font-size:6.600px;line-height:8px;color:#343a40;-webkit-text-stroke:.15px #343a40">David Wiley</div>
<div class="abs nw mut" style="left:193.30px;top:54.95px;font-size:5.900px;line-height:8px">02 Nov, 2019</div>
<div class="abs nw mut" style="left:292.70px;top:54.95px;font-size:5.900px;line-height:8px">$ 1,234</div>
<div class="abs nw mut" style="left:356.70px;top:54.95px;font-size:5.900px;line-height:8px">1</div>
<div class="abs nw mut" style="left:431.60px;top:54.95px;font-size:5.900px;line-height:8px">$ 1,234</div>
<svg class="abs" style="left:500.00px;top:54.20px;width:8px;height:8px" viewBox="0 0 8 8"><circle cx="4.70" cy="4.75" r="2.350" fill="#10b572"/></svg>
<div class="abs nw mut" style="left:511.60px;top:54.95px;font-size:6.300px;line-height:8px">Confirm</div>
<div class="abs" style="left:593.20px;top:53.15px;width:17.500px;height:11.600px;border:1px solid #8fdcbc;border-radius:1.500px;color:#2dbf85;font-size:5.300px;letter-spacing:.2px;line-height:10.800px;overflow:hidden;text-align:center">Edit</div>
<div class="abs" style="left:613.00px;top:53.15px;width:24.600px;height:11.600px;border:1px solid #ffa3b4;border-radius:1.500px;color:#ff5c79;font-size:5.300px;letter-spacing:.2px;line-height:10.800px;overflow:hidden;text-align:center">Cancel</div>
<div class="abs" style="left:12.60px;top:83.10px;width:6.200px;height:6.200px;border:1px solid #dde1e6;border-radius:1.400px;background:#fff"></div>
<div class="abs" style="left:33.70px;top:79.70px;width:13px;height:13px;border-radius:50%;background:#c9ece5;color:#0bb197;font-size:5.200px;line-height:13px;text-align:center;font-weight:bold">W</div>
<div class="abs nw mut" style="left:58.70px;top:78.10px;font-size:4.800px;line-height:7px">#AP1235</div>
<div class="abs nw" style="left:58.70px;top:86.90px;font-size:6.600px;line-height:8px;color:#343a40;-webkit-text-stroke:.15px #343a40">Walter Jones</div>
<div class="abs nw mut" style="left:193.30px;top:82.20px;font-size:5.900px;line-height:8px">04 Nov, 2019</div>
<div class="abs nw mut" style="left:292.70px;top:82.20px;font-size:5.900px;line-height:8px">$ 822</div>
<div class="abs nw mut" style="left:356.70px;top:82.20px;font-size:5.900px;line-height:8px">2</div>
<div class="abs nw mut" style="left:431.60px;top:82.20px;font-size:5.900px;line-height:8px">$ 1,644</div>
<svg class="abs" style="left:500.00px;top:82.20px;width:8px;height:8px" viewBox="0 0 8 8"><circle cx="4.70" cy="4.00" r="2.350" fill="#10b572"/></svg>
<div class="abs nw mut" style="left:511.60px;top:82.20px;font-size:6.300px;line-height:8px">Confirm</div>
<div class="abs" style="left:593.20px;top:80.40px;width:17.500px;height:11.600px;border:1px solid #8fdcbc;border-radius:1.500px;color:#2dbf85;font-size:5.300px;letter-spacing:.2px;line-height:10.800px;overflow:hidden;text-align:center">Edit</div>
<div class="abs" style="left:613.00px;top:80.40px;width:24.600px;height:11.600px;border:1px solid #ffa3b4;border-radius:1.500px;color:#ff5c79;font-size:5.300px;letter-spacing:.2px;line-height:10.800px;overflow:hidden;text-align:center">Cancel</div>
</div>

</div>
</body>
</html>
